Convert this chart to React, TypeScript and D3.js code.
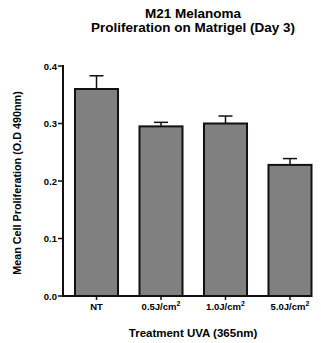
import React from 'react';
import * as d3 from 'd3';

const categories = ['NT', '0.5', '1.0', '5.0'];
const means = [0.36, 0.295, 0.3, 0.228];
const errors = [0.023, 0.007, 0.013, 0.011];
const yTicks = [0, 0.1, 0.2, 0.3, 0.4];

const W = 321;
const H = 343;

export default function App() {
  const x = d3.scaleBand<string>().domain(categories).range([63, 323.5]).paddingInner(0.333).paddingOuter(0.186);
  const y = d3.scaleLinear().domain([0, 0.4]).range([296, 66]);
  const font = '"Liberation Sans", Arial, sans-serif';

  return (
    <svg width={W} height={H} style={{ position: 'absolute', left: 0, top: 0 }} fontFamily={font}>
      <text x={193} y={17.5} textAnchor="middle" fontSize={13.5} fontWeight="bold">M21 Melanoma</text>
      <text x={193} y={32} textAnchor="middle" fontSize={13.5} fontWeight="bold">Proliferation on Matrigel (Day 3)</text>

      {categories.map((c, i) => {
        const bx = x(c)!;
        const cx = bx + x.bandwidth() / 2;
        return (
          <g key={c}>
            <line x1={cx} x2={cx} y1={y(means[i])} y2={y(means[i] + errors[i])} stroke="#111" strokeWidth={1.5} />
            <line x1={cx - 7} x2={cx + 7} y1={y(means[i] + errors[i])} y2={y(means[i] + errors[i])} stroke="#111" strokeWidth={1.5} />
            <rect x={bx} y={y(means[i])} width={x.bandwidth()} height={y(0) - y(means[i])} fill="#808080" stroke="#111" strokeWidth={2} />
          </g>
        );
      })}

      <line x1={63} x2={63} y1={65} y2={297} stroke="#111" strokeWidth={2} />
      <line x1={62} x2={312} y1={296} y2={296} stroke="#111" strokeWidth={2} />
      {yTicks.map((t) => (
        <g key={t}>
          <line x1={58} x2={63} y1={y(t)} y2={y(t)} stroke="#111" strokeWidth={1.5} />
          <text x={57} y={y(t) + 3.5} textAnchor="end" fontSize={9.5} fontWeight="bold">{t.toFixed(1)}</text>
        </g>
      ))}
      {categories.map((c) => {
        const cx = x(c)! + x.bandwidth() / 2;
        return (
          <g key={c}>
            <line x1={cx} x2={cx} y1={296} y2={300} stroke="#111" strokeWidth={1.5} />
            <text x={cx} y={309.5} textAnchor="middle" fontSize={9.5} fontWeight="bold">
              {c === 'NT' ? 'NT' : (
                <>
                  {c}J/cm<tspan dy={-3.5} fontSize={7}>2</tspan>
                </>
              )}
            </text>
          </g>
        );
      })}

      <text x={193} y={337} textAnchor="middle" fontSize={11.5} fontWeight="bold">Treatment UVA (365nm)</text>
      <text transform="translate(21,183) rotate(-90)" textAnchor="middle" fontSize={10.8} fontWeight="bold">
        Mean Cell Proliferation (O.D 490nm)
      </text>
    </svg>
  );
}
